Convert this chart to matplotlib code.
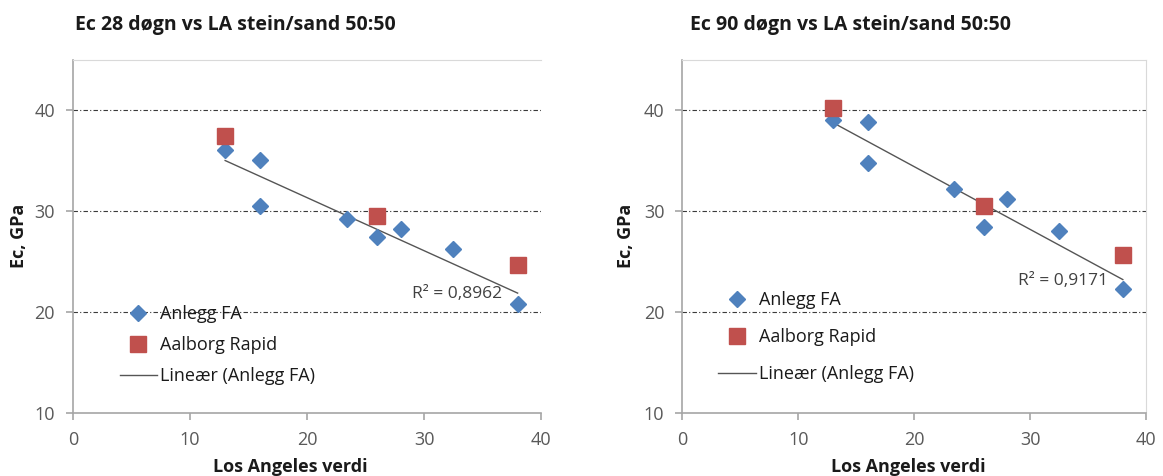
import numpy as np
import matplotlib.pyplot as plt

plt.rcParams['font.family'] = ['Open Sans', 'DejaVu Sans']

# Los Angeles value vs E-modulus, 28 and 90 days
anlegg_la = [13, 16, 16, 23.4, 26, 28, 32.5, 38]
anlegg_ec28 = [36.0, 35.0, 30.5, 29.2, 27.4, 28.2, 26.2, 20.8]
anlegg_ec90 = [39.0, 38.8, 34.8, 32.2, 28.4, 31.2, 28.0, 22.3]

aalborg_la = [13, 26, 38]
aalborg_ec28 = [37.4, 29.5, 24.7]
aalborg_ec90 = [40.2, 30.5, 25.6]

r2_28 = 0.8962
r2_90 = 0.9171

titles = ['Ec 28 døgn vs LA stein/sand 50:50', 'Ec 90 døgn vs LA stein/sand 50:50']

BLUE = '#4F81BD'
RED = '#C0504D'
TXT = '#595959'

fig = plt.figure(figsize=(11.63, 4.76), dpi=100)
ax1 = fig.add_axes([0.0628, 0.1324, 0.4024, 0.7426])
ax2 = fig.add_axes([0.5867, 0.1324, 0.3987, 0.7426])


def draw(ax, ec_anlegg, ec_aalborg, r2, r2_xy, leg_xy, leg_spacing, frame_right):
    ax.set_xlim(0, 40)
    ax.set_ylim(10, 45)
    ax.set_xticks([0, 10, 20, 30, 40])
    ax.set_yticks([10, 20, 30, 40])
    for v in [20, 30, 40]:
        ax.axhline(v, color='#3a3a3a', lw=0.8, ls=(0, (4, 2, 1, 2)), zorder=1)

    # linear trend of Anlegg FA
    k, m = np.polyfit(anlegg_la, ec_anlegg, 1)
    xs = np.array([min(anlegg_la), max(anlegg_la)])
    ax.plot(anlegg_la, ec_anlegg, 'D', color=BLUE, ms=8.5, mec=BLUE, label='Anlegg FA', zorder=3)
    ax.plot(aalborg_la, ec_aalborg, 's', color=RED, ms=11, mec=RED, label='Aalborg Rapid', zorder=4)
    ax.plot(xs, k * xs + m, color='#555555', lw=1.0, label='Lineær (Anlegg FA)', zorder=2)

    ax.text(r2_xy[0], r2_xy[1], 'R² = ' + f'{r2:.4f}'.replace('.', ','),
            fontsize=12.5, color='#404040', ha='center', va='center', zorder=5)

    for side in ['left', 'bottom']:
        ax.spines[side].set_color('#a6a6a6')
        ax.spines[side].set_linewidth(1.2)
    ax.spines['top'].set_color('#d9d9d9')
    ax.spines['right'].set_color('#d9d9d9')
    ax.spines['right'].set_visible(frame_right)
    ax.tick_params(colors='#a6a6a6', labelcolor=TXT, labelsize=13, length=5, width=1.2, pad=8)
    ax.set_ylabel('Ec, GPa', fontsize=13, fontweight='bold', color='#1a1a1a')
    ax.set_xlabel('Los Angeles verdi', fontsize=13, fontweight='bold', color='#1a1a1a')

    leg = ax.legend(loc='upper left', bbox_to_anchor=leg_xy, frameon=False,
                    fontsize=13, labelspacing=leg_spacing, handlelength=2.05,
                    handletextpad=0.2, borderaxespad=0, borderpad=0)
    for t in leg.get_texts():
        t.set_color('#1a1a1a')


draw(ax1, anlegg_ec28, aalborg_ec28, r2_28, (32.8, 21.8), (0.10, 0.305), 0.72, False)
draw(ax2, anlegg_ec90, aalborg_ec90, r2_90, (32.8, 23.1), (0.078, 0.345), 1.05, True)
ax1.yaxis.set_label_coords(-0.096, 0.5)
ax2.yaxis.set_label_coords(-0.101, 0.5)
ax1.xaxis.set_label_coords(0.465, -0.128)
ax2.xaxis.set_label_coords(0.487, -0.128)

fig.text(0.0645, 0.948, titles[0], fontsize=14, fontweight='bold', va='center', color='#1a1a1a')
fig.text(0.5935, 0.948, titles[1], fontsize=14, fontweight='bold', va='center', color='#1a1a1a')

fig.savefig('out.png', dpi=100)
